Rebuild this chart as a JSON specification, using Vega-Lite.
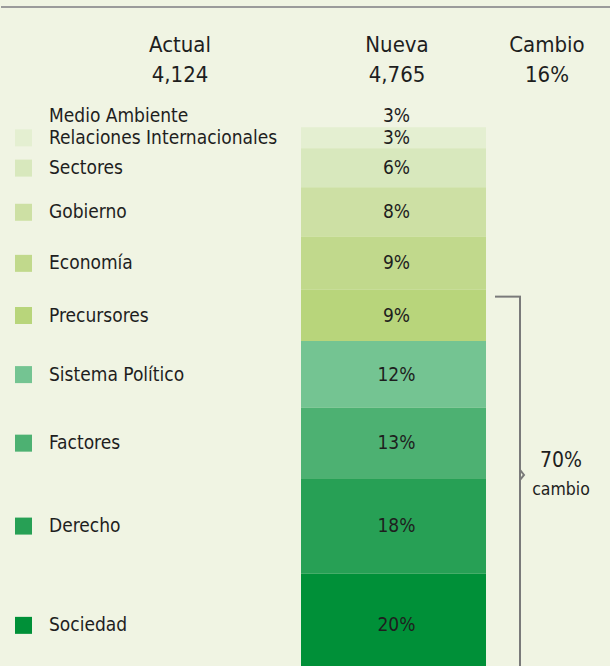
{
  "$schema": "https://vega.github.io/schema/vega-lite/v6.json",
  "background": "#f0f4e3",
  "padding": 0,
  "spacing": 0,
  "config": {
    "view": {"stroke": null},
    "font": "DejaVu Sans Condensed, DejaVu Sans, sans-serif",
    "text": {"font": "DejaVu Sans Condensed, DejaVu Sans, sans-serif", "color": "#1e1e1e"}
  },
  "datasets": {
    "encabezado": [
      {"col": "Actual", "texto": "Actual\n4,124"},
      {"col": "Nueva", "texto": "Nueva\n4,765"},
      {"col": "Cambio", "texto": "Cambio\n16%"}
    ],
    "temas": [
      {"tema": "Medio Ambiente", "pct": 0.03, "orden": 1, "grupo": null},
      {"tema": "Relaciones Internacionales", "pct": 0.03, "orden": 2, "grupo": null},
      {"tema": "Sectores", "pct": 0.06, "orden": 3, "grupo": null},
      {"tema": "Gobierno", "pct": 0.08, "orden": 4, "grupo": null},
      {"tema": "Economía", "pct": 0.09, "orden": 5, "grupo": null},
      {"tema": "Precursores", "pct": 0.09, "orden": 6, "grupo": "70%"},
      {"tema": "Sistema Político", "pct": 0.12, "orden": 7, "grupo": "70%"},
      {"tema": "Factores", "pct": 0.13, "orden": 8, "grupo": "70%"},
      {"tema": "Derecho", "pct": 0.18, "orden": 9, "grupo": "70%"},
      {"tema": "Sociedad", "pct": 0.20, "orden": 10, "grupo": "70%"}
    ]
  },
  "vconcat": [
    {
      "width": 610,
      "height": 103,
      "data": {"name": "encabezado"},
      "layer": [
        {
          "mark": {"type": "rule", "color": "#9a9a9a", "strokeWidth": 1.5},
          "encoding": {
            "y": {"datum": "linea", "type": "nominal", "scale": {"type": "point", "padding": 0, "domain": ["linea", "texto"], "range": [7, 51.7]}, "axis": null}
          }
        },
        {
          "transform": [{"filter": "datum.col === 'Actual'"}],
          "mark": {"type": "text", "fontSize": 22, "lineBreak": "\n", "lineHeight": 30, "baseline": "alphabetic", "align": "center", "dx": -67},
          "encoding": {
            "x": {"field": "col", "type": "nominal", "scale": {"type": "point", "padding": 0, "domain": ["Actual", "Nueva", "Cambio"], "range": [246, 546]}, "axis": null},
            "y": {"datum": "texto", "type": "nominal", "scale": {"type": "point", "padding": 0, "domain": ["linea", "texto"], "range": [7, 51.7]}, "axis": null},
            "text": {"field": "texto"}
          }
        },
        {
          "transform": [{"filter": "datum.col !== 'Actual'"}],
          "mark": {"type": "text", "fontSize": 22, "lineBreak": "\n", "lineHeight": 30, "baseline": "alphabetic", "align": "center"},
          "encoding": {
            "x": {"field": "col", "type": "nominal", "scale": {"type": "point", "padding": 0, "domain": ["Actual", "Nueva", "Cambio"], "range": [246, 546]}, "axis": null},
            "y": {"datum": "texto", "type": "nominal", "scale": {"type": "point", "padding": 0, "domain": ["linea", "texto"], "range": [7, 51.7]}, "axis": null},
            "text": {"field": "texto"}
          }
        }
      ]
    },
    {
      "width": 610,
      "height": 563,
      "data": {"name": "temas"},
      "transform": [
        {"stack": "pct", "groupby": [], "sort": [{"field": "orden", "order": "ascending"}], "as": ["y0", "y1"]},
        {"calculate": "(datum.y0 + datum.y1) / 2", "as": "ymid"}
      ],
      "layer": [
        {
          "mark": {"type": "bar", "width": 185, "clip": true},
          "encoding": {
            "x": {"datum": "Nueva", "type": "nominal", "scale": {"type": "point", "padding": 0, "domain": ["Leyenda", "Nueva", "Cambio"], "range": [238.5, 546.5]}, "axis": null},
            "y": {"field": "y0", "type": "quantitative", "scale": {"type": "pow", "exponent": 0.9, "domain": [0, 0.989], "reverse": true, "nice": false, "zero": false}, "axis": null},
            "y2": {"field": "y1"},
            "color": {
              "field": "tema", "type": "nominal", "legend": null,
              "scale": {
                "domain": ["Medio Ambiente", "Relaciones Internacionales", "Sectores", "Gobierno", "Economía", "Precursores", "Sistema Político", "Factores", "Derecho", "Sociedad"],
                "range": ["#f0f4e3", "#e4efd1", "#d8e8bd", "#cde0a4", "#c1d98c", "#b8d57b", "#74c492", "#4db172", "#27a055", "#009038"]
              }
            }
          }
        },
        {
          "mark": {"type": "text", "fontSize": 19, "baseline": "middle", "align": "center", "dx": 3},
          "encoding": {
            "x": {"datum": "Nueva", "type": "nominal", "scale": {"type": "point", "padding": 0, "domain": ["Leyenda", "Nueva", "Cambio"], "range": [238.5, 546.5]}, "axis": null},
            "y": {"field": "ymid", "type": "quantitative", "scale": {"type": "pow", "exponent": 0.9, "domain": [0, 0.989], "reverse": true, "nice": false, "zero": false}, "axis": null},
            "text": {"field": "pct", "type": "quantitative", "format": ".0%"}
          }
        },
        {
          "mark": {"type": "square", "size": 289, "opacity": 1, "xOffset": -216},
          "encoding": {
            "x": {"datum": "Leyenda", "type": "nominal", "scale": {"type": "point", "padding": 0, "domain": ["Leyenda", "Nueva", "Cambio"], "range": [238.5, 546.5]}, "axis": null},
            "y": {"field": "ymid", "type": "quantitative", "scale": {"type": "pow", "exponent": 0.9, "domain": [0, 0.989], "reverse": true, "nice": false, "zero": false}, "axis": null},
            "color": {"field": "tema", "type": "nominal", "legend": null}
          }
        },
        {
          "mark": {"type": "text", "fontSize": 19, "baseline": "middle", "align": "left", "dx": -190.5},
          "encoding": {
            "x": {"datum": "Leyenda", "type": "nominal", "scale": {"type": "point", "padding": 0, "domain": ["Leyenda", "Nueva", "Cambio"], "range": [238.5, 546.5]}, "axis": null},
            "y": {"field": "ymid", "type": "quantitative", "scale": {"type": "pow", "exponent": 0.9, "domain": [0, 0.989], "reverse": true, "nice": false, "zero": false}, "axis": null},
            "text": {"field": "tema", "type": "nominal"}
          }
        },
        {
          "transform": [
            {"filter": "datum.grupo != null"},
            {"aggregate": [{"op": "min", "field": "y0", "as": "ymin"}, {"op": "max", "field": "y1", "as": "ymax"}], "groupby": ["grupo"]},
            {"calculate": "(datum.ymin + datum.ymax) / 2", "as": "ycentro"}
          ],
          "layer": [
            {
              "mark": {"type": "rule", "color": "#7a7a7a", "strokeWidth": 2, "xOffset": -27.5, "yOffset": 7, "clip": true},
              "encoding": {
                "x": {"datum": "Cambio", "type": "nominal", "scale": {"type": "point", "padding": 0, "domain": ["Leyenda", "Nueva", "Cambio"], "range": [238.5, 546.5]}, "axis": null},
                "y": {"field": "ymin", "type": "quantitative", "scale": {"type": "pow", "exponent": 0.9, "domain": [0, 0.989], "reverse": true, "nice": false, "zero": false}, "axis": null},
                "y2": {"field": "ymax"}
              }
            },
            {
              "mark": {"type": "rule", "color": "#7a7a7a", "strokeWidth": 2, "xOffset": 101.5, "x2Offset": -26.5, "yOffset": 7},
              "encoding": {
                "x": {"datum": "Nueva", "type": "nominal", "scale": {"type": "point", "padding": 0, "domain": ["Leyenda", "Nueva", "Cambio"], "range": [238.5, 546.5]}, "axis": null},
                "x2": {"datum": "Cambio"},
                "y": {"field": "ymin", "type": "quantitative", "scale": {"type": "pow", "exponent": 0.9, "domain": [0, 0.989], "reverse": true, "nice": false, "zero": false}, "axis": null}
              }
            },
            {
              "mark": {"type": "point", "shape": "M0,-1L0.8,0L0,1", "size": 100, "filled": false, "color": "#7a7a7a", "strokeWidth": 2, "opacity": 1, "xOffset": -27.5, "yOffset": -14},
              "encoding": {
                "x": {"datum": "Cambio", "type": "nominal", "scale": {"type": "point", "padding": 0, "domain": ["Leyenda", "Nueva", "Cambio"], "range": [238.5, 546.5]}, "axis": null},
                "y": {"field": "ycentro", "type": "quantitative", "scale": {"type": "pow", "exponent": 0.9, "domain": [0, 0.989], "reverse": true, "nice": false, "zero": false}, "axis": null}
              }
            },
            {
              "mark": {"type": "text", "fontSize": 21, "baseline": "middle", "align": "center", "dx": 13.5, "dy": -28},
              "encoding": {
                "x": {"datum": "Cambio", "type": "nominal", "scale": {"type": "point", "padding": 0, "domain": ["Leyenda", "Nueva", "Cambio"], "range": [238.5, 546.5]}, "axis": null},
                "y": {"field": "ycentro", "type": "quantitative", "scale": {"type": "pow", "exponent": 0.9, "domain": [0, 0.989], "reverse": true, "nice": false, "zero": false}, "axis": null},
                "text": {"field": "grupo", "type": "nominal"}
              }
            },
            {
              "mark": {"type": "text", "fontSize": 17.5, "baseline": "middle", "align": "center", "dx": 13.5, "dy": 1},
              "encoding": {
                "x": {"datum": "Cambio", "type": "nominal", "scale": {"type": "point", "padding": 0, "domain": ["Leyenda", "Nueva", "Cambio"], "range": [238.5, 546.5]}, "axis": null},
                "y": {"field": "ycentro", "type": "quantitative", "scale": {"type": "pow", "exponent": 0.9, "domain": [0, 0.989], "reverse": true, "nice": false, "zero": false}, "axis": null},
                "text": {"value": "cambio"}
              }
            }
          ]
        }
      ]
    }
  ]
}
